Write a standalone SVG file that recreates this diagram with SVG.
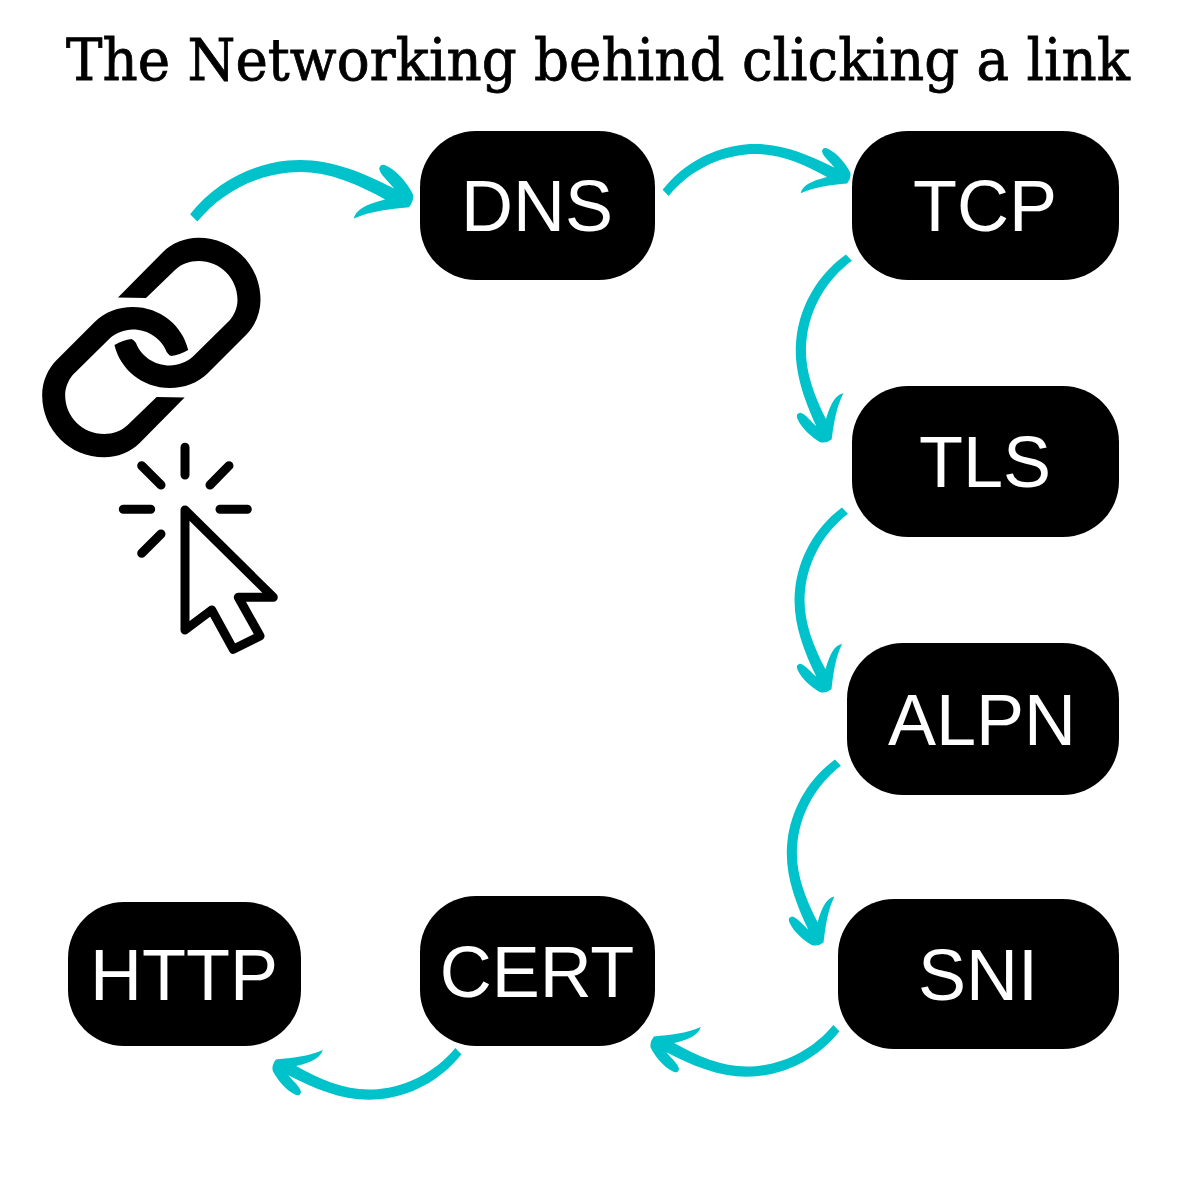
<svg xmlns="http://www.w3.org/2000/svg" width="1200" height="1200" viewBox="0 0 1200 1200">
  <style>
    .box { fill: #000; }
    .lbl { fill: #fff; font-family: "Liberation Sans", Arial, sans-serif; font-size: 72px; text-anchor: middle; }
    .title { fill: #000; stroke: #000; stroke-width: .8; font-family: "DejaVu Serif", "Liberation Serif", serif; font-size: 57px; }
    .arrow { fill: #00c2cb; }
    .icon { fill: #000; }
    .line { fill: none; stroke: #000; stroke-width: 9; stroke-linecap: round; stroke-linejoin: round; }
  </style>
  <defs>
    <path id="arrowShape" d="M-2.500 -4 C26 -34 64 -48 100 -48 C138 -48 172 -30 203 -10 C198 -18 191 -24 190 -31 Q192 -37 198 -33 C208 -27 217 -13 221 -3 Q222 4 216 10 C196 10 178 10 160 16 C163 8 172 3 193 0 C164 -20 134 -36 100 -36 C64 -36 30 -22 4 4 Z"/>
    <path id="linkShape" d="M118 297.500 L163 252 C172 243 185 237.700 198.500 237.700 C233 237.700 260.500 265 260.500 300 C260.500 313 255 326 246 335 L208 373 C198 383 184 388 170 388 C142 388 120 369 114.500 345 Q123 340 131.500 339 Q134 340 136 343 C141 356 154 365.500 170 365.500 C178 365.500 187 362 193 356.500 L230 320 C234 315 237.500 308 237.500 300 C237.500 278 220 261 198.500 261 C190 261 181 264 175 270 L146 298 Z"/>
  </defs>
  <rect width="1200" height="1200" fill="#fff"/>
  <text id="title" class="title" x="66" y="80" textLength="1064" lengthAdjust="spacingAndGlyphs">The Networking behind clicking a link</text>

  <g id="link-icon" class="icon">
    <use href="#linkShape"/>
    <use href="#linkShape" transform="rotate(180 151.330 347.500)"/>
  </g>
  <g id="cursor-icon" class="line">
    <path d="M185 510 V630 L211.700 610 L233.300 649.300 L260 636 L238.300 597.300 H273.300 Z"/>
    <path d="M185 447.300 V475 M141.700 465.700 L161 485 M229 465.700 L210 485 M123.300 509.300 H150.700 M220 509.300 H247.300 M161 534 L141.700 553.300"/>
  </g>

  <g id="node-dns"><rect class="box" x="420" y="131" width="235" height="149" rx="56"/><text class="lbl" x="537" y="231">DNS</text></g>
  <g id="node-tcp"><rect class="box" x="852" y="131" width="267" height="149" rx="56"/><text class="lbl" x="985" y="231">TCP</text></g>
  <g id="node-tls"><rect class="box" x="852" y="386" width="267" height="151" rx="56"/><text class="lbl" x="985" y="487">TLS</text></g>
  <g id="node-alpn"><rect class="box" x="847" y="643" width="272" height="152" rx="56"/><text class="lbl" x="982" y="745">ALPN</text></g>
  <g id="node-sni"><rect class="box" x="838" y="899" width="281" height="150" rx="56"/><text class="lbl" x="978" y="1000">SNI</text></g>
  <g id="node-cert"><rect class="box" x="420" y="896" width="235" height="150" rx="56"/><text class="lbl" x="537" y="997">CERT</text></g>
  <g id="node-http"><rect class="box" x="68" y="902" width="233" height="144" rx="56"/><text class="lbl" x="184" y="1000">HTTP</text></g>

  <g id="connectors" class="arrow">
    <use href="#arrowShape" transform="matrix(.9954 -.0963 .0963 .9954 193 218)"/>
    <use href="#arrowShape" transform="matrix(.8394 -.0826 .0826 .8394 665 193)"/>
    <use href="#arrowShape" transform="matrix(-.1193 .8394 .8394 .1193 849 257)"/>
    <use href="#arrowShape" transform="matrix(-.1009 .8257 .8257 .1009 845 510)"/>
    <use href="#arrowShape" transform="matrix(-.1055 .8303 .8303 .1055 838 762)"/>
    <use href="#arrowShape" transform="matrix(-.844 .078 -.078 -.844 837 1028)"/>
    <use href="#arrowShape" transform="matrix(-.844 .078 -.078 -.844 459 1051)"/>
  </g>
</svg>
